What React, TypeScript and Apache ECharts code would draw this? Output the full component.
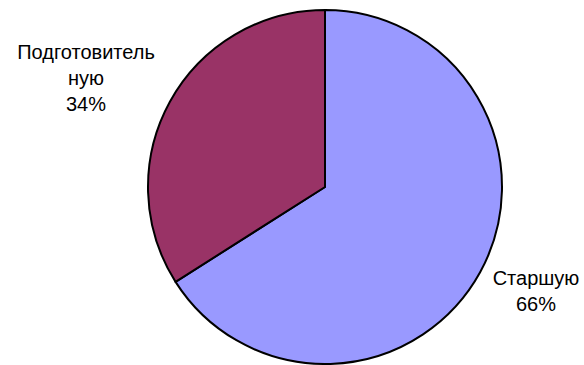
import React, { useEffect, useRef } from "react";
import * as echarts from "echarts";

const categories = ["Старшую", "Подготовительную"];
const values = [66, 34];
const colors = ["#9999FF", "#993366"];

const labelPos: [number, number][] = [
  [536, 291],
  [86, 78],
];

export default function App() {
  const ref = useRef<HTMLDivElement>(null);
  useEffect(() => {
    document.body.style.margin = "0";
    const chart = echarts.init(ref.current!, null, { renderer: "svg" });
    chart.setOption({
      animation: false,
      backgroundColor: "#ffffff",
      series: [
        {
          type: "pie",
          center: [325, 187],
          radius: 177,
          startAngle: 90,
          clockwise: true,
          avoidLabelOverlap: false,
          data: categories.map((name, i) => ({
            name,
            value: values[i],
            itemStyle: { color: colors[i] },
          })),
          itemStyle: { borderColor: "#000000", borderWidth: 2 },
          emphasis: { disabled: true },
          label: {
            show: true,
            position: "outside",
            color: "#000000",
            fontFamily: "Liberation Sans, Arial, sans-serif",
            fontSize: 20,
            lineHeight: 26,
            align: "center",
            formatter: (p: any) => {
              const n: string = p.name;
              const name = n.length > 13 ? n.slice(0, 13) + "\n" + n.slice(13) : n;
              return name + "\n" + Math.round(p.percent) + "%";
            },
          },
          labelLine: { show: false },
          labelLayout: (params: any) => ({
            x: labelPos[params.dataIndex][0],
            y: labelPos[params.dataIndex][1],
            align: "center",
            verticalAlign: "middle",
          }),
        },
      ],
    });
    return () => chart.dispose();
  }, []);
  return <div ref={ref} style={{ width: 584, height: 365 }} />;
}
